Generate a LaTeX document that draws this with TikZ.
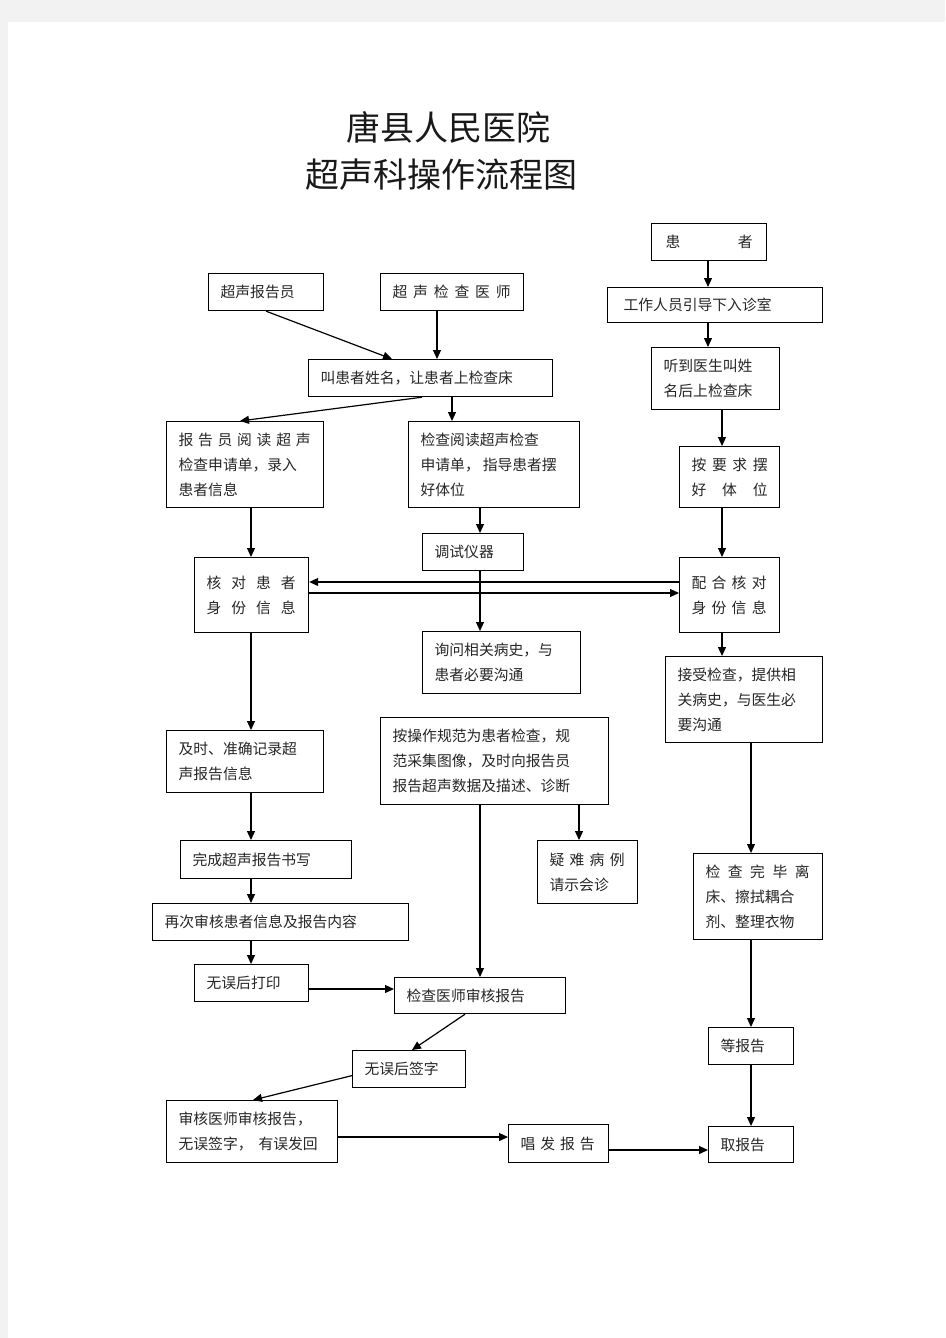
\documentclass[tikz,border=0pt]{standalone}
\usepackage{fontspec}
\newfontfamily\cjk{Noto Sans CJK SC}
\usetikzlibrary{arrows.meta}
\tikzset{
  flowbox/.style={
    draw, line width=1.2pt, anchor=north west, align=left,
    inner xsep=12pt, inner ysep=0pt, text=black!85,
    font=\cjk\fontsize{14.8}{25}\selectfont,
  },
  flowline/.style={->, line width=1.2pt},
  heading/.style={text=black!90, font=\cjk\fontsize{34}{49}\selectfont},
}
\newcommand\spreadline[2]{\makebox[#1][s]{\spaceskip=0pt plus 1fil\relax #2}}

\begin{document}
\begin{tikzpicture}[x=1pt, y=-1pt, >={Triangle[length=9pt,width=8pt]}] % ultrasound workflow
    % page
    \useasboundingbox (0,0) rectangle (945,1338);
    \fill [black!5] (0,0) rectangle (945,1338);
    \fill [white] (8,22) rectangle (945,1338);

    % title
    \node [heading] (title1) at (448,127) {唐县人民医院};
    \node [heading] (title2) at (441,175) {超声科操作流程图};

    % boxes, left and middle
    \node [flowbox, minimum width=115pt, minimum height=37pt, text width=91pt] (reporter) at (208,273) {超声报告员};
    \node [flowbox, minimum width=143pt, minimum height=37pt, text width=119pt] (doctor) at (380,273) {\spreadline{118pt}{超 声 检 查 医 师}};
    \node [flowbox, minimum width=244pt, minimum height=37pt, text width=220pt] (callpt) at (308,359) {叫患者姓名，让患者上检查床};
    \node [flowbox, minimum width=157pt, minimum height=86pt, text width=133pt] (readreq) at (166,421)
        {\spreadline{132pt}{报 告 员 阅 读 超 声}\\检查申请单，录入\\患者信息};
    \node [flowbox, minimum width=171pt, minimum height=86pt, text width=147pt] (guidepos) at (408,421)
        {检查阅读超声检查\\申请单，\hspace{3pt}指导患者摆\\好体位};
    \node [flowbox, minimum width=101pt, minimum height=37pt, text width=77pt] (tune) at (422,533) {调试仪器};
    \node [flowbox, minimum width=114pt, minimum height=75pt, text width=90pt] (verify) at (194,557)
        {\spreadline{89pt}{核 对 患 者}\\\spreadline{89pt}{身 份 信 息}};
    \node [flowbox, minimum width=158pt, minimum height=62pt, text width=134pt] (ask) at (422,631)
        {询问相关病史，与\\患者必要沟通};
    \node [flowbox, minimum width=157pt, minimum height=62pt, text width=133pt] (record) at (166,730)
        {及时、准确记录超\\声报告信息};
    \node [flowbox, minimum width=228pt, minimum height=87pt, text width=204pt] (scan) at (380,717)
        {按操作规范为患者检查，规\\范采集图像，及时向报告员\\报告超声数据及描述、诊断};
    \node [flowbox, minimum width=171pt, minimum height=38pt, text width=147pt] (finish) at (180,840) {完成超声报告书写};
    \node [flowbox, minimum width=100pt, minimum height=63pt, text width=76pt] (consult) at (537,840)
        {\spreadline{75pt}{疑 难 病 例}\\请示会诊};
    \node [flowbox, minimum width=256pt, minimum height=37pt, text width=232pt] (recheck) at (152,903) {再次审核患者信息及报告内容};
    \node [flowbox, minimum width=114pt, minimum height=37pt, text width=90pt] (print) at (194,964) {无误后打印};
    \node [flowbox, minimum width=171pt, minimum height=36pt, text width=147pt] (docreview) at (394,977) {检查医师审核报告};
    \node [flowbox, minimum width=113pt, minimum height=37pt, text width=89pt] (sign) at (352,1050) {无误后签字};
    \node [flowbox, minimum width=171pt, minimum height=62pt, text width=147pt] (finalrev) at (166,1100)
        {审核医师审核报告，\\无误签字，\hspace{6pt}有误发回};
    \node [flowbox, minimum width=100pt, minimum height=38pt, text width=76pt] (announce) at (508,1124)
        {\spreadline{74pt}{唱 发 报 告}};

    % boxes, patient side
    \node [flowbox, minimum width=115pt, minimum height=37pt, text width=91pt] (patient) at (651,223)
        {\hspace{2pt}\spreadline{87pt}{患 者}};
    \node [flowbox, minimum width=215pt, minimum height=35pt, text width=191pt] (guide) at (607,287)
        {\hspace{4pt}工作人员引导下入诊室};
    \node [flowbox, minimum width=128pt, minimum height=62pt, text width=104pt] (hear) at (651,347)
        {听到医生叫姓\\名后上检查床};
    \node [flowbox, minimum width=100pt, minimum height=61pt, text width=76pt] (pose) at (679,446)
        {\spreadline{76pt}{按 要 求 摆}\\\spreadline{76pt}{好 体 位}};
    \node [flowbox, minimum width=100pt, minimum height=75pt, text width=76pt] (cooperate) at (679,557)
        {\spreadline{75pt}{配 合 核 对}\\\spreadline{75pt}{身 份 信 息}};
    \node [flowbox, minimum width=157pt, minimum height=86pt, text width=133pt] (accept) at (665,656)
        {接受检查，提供相\\关病史，与医生必\\要沟通};
    \node [flowbox, minimum width=129pt, minimum height=86pt, text width=105pt] (leave) at (693,853)
        {\spreadline{104pt}{检 查 完 毕 离}\\床、擦拭耦合\\剂、整理衣物};
    \node [flowbox, minimum width=85pt, minimum height=37pt, text width=61pt] (wait) at (708,1027) {等报告};
    \node [flowbox, minimum width=85pt, minimum height=36pt, text width=61pt] (collect) at (708,1126) {取报告};

    % define coordinates (columns and rows of the connectors)
    \coordinate (colL) at (251,0);
    \coordinate (colD) at (437,0);
    \coordinate (colE) at (452,0);
    \coordinate (colM) at (480,0);
    \coordinate (colN) at (579,0);
    \coordinate (colA) at (708,0);
    \coordinate (colB) at (722,0);
    \coordinate (colC) at (751,0);
    \coordinate (rowU) at (0,582);
    \coordinate (rowD) at (0,593);
    \coordinate (rowP) at (0,989);
    \coordinate (rowR) at (0,1137);
    \coordinate (rowS) at (0,1150);

    % vertical connectors
    \foreach \a/\b in {readreq/verify, verify/record, record/finish, finish/recheck, recheck/print}
        \draw [flowline] (\a.south -| colL) -- (\b.north -| colL);
    \draw [flowline] (doctor.south -| colD) -- (callpt.north -| colD);
    \draw [flowline] (callpt.south -| colE) -- (guidepos.north -| colE);
    \foreach \a/\b in {guidepos/tune, tune/ask, scan/docreview}
        \draw [flowline] (\a.south -| colM) -- (\b.north -| colM);
    \draw [flowline] (scan.south -| colN) -- (consult.north -| colN);
    \foreach \a/\b in {patient/guide, guide/hear}
        \draw [flowline] (\a.south -| colA) -- (\b.north -| colA);
    \foreach \a/\b in {hear/pose, pose/cooperate, cooperate/accept}
        \draw [flowline] (\a.south -| colB) -- (\b.north -| colB);
    \foreach \a/\b in {accept/leave, leave/wait, wait/collect}
        \draw [flowline] (\a.south -| colC) -- (\b.north -| colC);

    % horizontal connectors
    \draw [flowline] (cooperate.west |- rowU) -- (verify.east |- rowU);
    \draw [flowline] (verify.east |- rowD) -- (cooperate.west |- rowD);
    \draw [flowline] (print.east |- rowP) -- (docreview.west |- rowP);
    \draw [flowline] (finalrev.east |- rowR) -- (announce.west |- rowR);
    \draw [flowline] (announce.east |- rowS) -- (collect.west |- rowS);

    % slanted connectors
    \draw [flowline] (reporter.south) -- ([xshift=84pt]callpt.north west);
    \draw [flowline] ([xshift=114pt]callpt.south west) -- ([xshift=74pt]readreq.north west);
    \draw [flowline] ([xshift=71pt]docreview.south west) -- ([xshift=60pt]sign.north west);
    \draw [flowline] ([yshift=-6.5pt]sign.west) -- ([xshift=87pt]finalrev.north west);
\end{tikzpicture}
\end{document}
